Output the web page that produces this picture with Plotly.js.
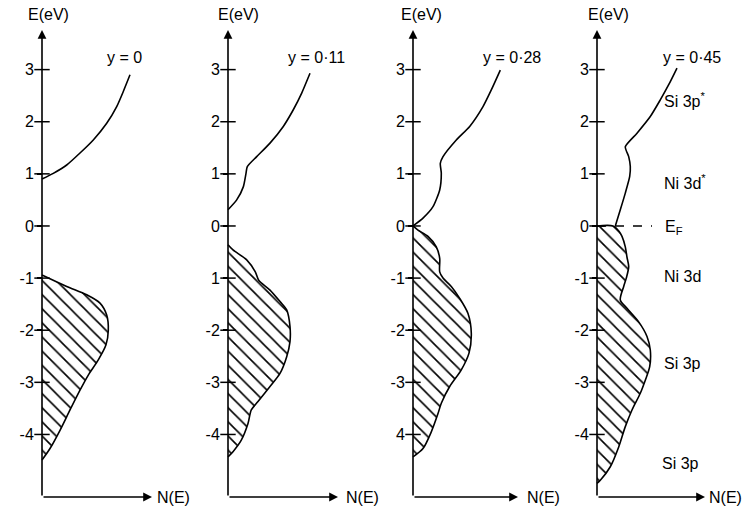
<!DOCTYPE html>
<html>
<head>
<meta charset="utf-8">
<script src="https://cdn.plot.ly/plotly-3.0.1.min.js"></script>
<style>html,body{margin:0;padding:0;background:#fff;}#chart{width:754px;height:508px;}</style>
</head>
<body>
<div id="chart"></div>
<script>
// ---- data (N(E) in arbitrary units, E in eV) ----
const panelLabels = ["y = 0", "y = 0·11", "y = 0·28", "y = 0·45"];
const tickVals = [3, 2, 1, 0, -1, -2, -3, -4];
const tickText1 = ["3", "2", "1", "0", "-1", "-2", "-3", "-4"];
const tickText2 = ["3", "2", "1", "0", "1", "-2", "-3", "-4"];
const tickText3 = ["3", "2", "1", "0", "-1", "-2", "-3", "4"];
const tickText4 = ["3", "2", "1", "0", "-1", "-2", "-3", "-4"];

const cond1N = [0, 1.13, 2.47, 3.8, 5.13, 6.47, 7.47, 8.13, 8.8];
const cond1E = [0.90, 1.01, 1.17, 1.40, 1.65, 1.97, 2.29, 2.58, 2.90];
const val1N = [0, 2.47, 4.47, 5.8, 6.47, 6.63, 6.4, 5.63, 4.63, 3.8, 2.8, 1.8, 0.8, 0];
const val1E = [-0.94, -1.16, -1.32, -1.48, -1.71, -2.0, -2.28, -2.57, -2.86, -3.15, -3.53, -3.92, -4.27, -4.49];

const cond2N = [0, 0.87, 1.53, 1.8, 1.93, 2.87, 4.2, 5.53, 6.53, 7.37, 8.2];
const cond2E = [0.31, 0.50, 0.75, 1.01, 1.14, 1.33, 1.59, 1.91, 2.23, 2.55, 2.93];
const val2N = [0, 0.5, 1.87, 2.73, 3.07, 4.2, 5.2, 5.87, 6.2, 6.2, 5.87, 5.2, 4.2, 3.0, 2.33, 2.0, 1.33, 0.5, 0];
const val2E = [-0.36, -0.46, -0.65, -0.88, -1.04, -1.23, -1.45, -1.61, -1.93, -2.22, -2.51, -2.83, -3.08, -3.37, -3.53, -3.79, -4.11, -4.33, -4.43];

const cond3N = [0, 1.0, 2.0, 2.67, 2.83, 2.73, 3.0, 4.33, 5.67, 7.0, 7.83, 8.73];
const cond3E = [0, 0.15, 0.37, 0.69, 1.01, 1.20, 1.33, 1.65, 1.91, 2.29, 2.61, 2.99];
const val3N = [0, 0.5, 1.5, 2.33, 2.67, 2.67, 3.0, 3.83, 4.67, 5.5, 5.83, 5.6, 4.83, 3.67, 2.83, 2.5, 1.83, 1.0, 0];
const val3E = [0, -0.08, -0.2, -0.4, -0.62, -0.88, -1.0, -1.16, -1.39, -1.68, -2.06, -2.44, -2.76, -3.08, -3.40, -3.60, -3.95, -4.27, -4.43];

const cond4N = [1.83, 2.33, 2.83, 3.27, 3.33, 3.17, 2.83, 4.0, 5.33, 6.33, 7.17, 8.0];
const cond4E = [0, 0.31, 0.63, 0.95, 1.14, 1.33, 1.52, 1.78, 2.10, 2.42, 2.71, 3.03];
const val4N = [0, 1.6, 2.2, 2.5, 2.83, 3.0, 3.17, 2.93, 2.67, 2.33, 3.0, 4.17, 5.0, 5.33, 5.27, 4.83, 4.33, 3.5, 2.83, 2.17, 1.33, 0.33, 0];
const val4E = [0, 0, -0.1, -0.2, -0.4, -0.6, -0.78, -1.0, -1.16, -1.42, -1.58, -1.84, -2.12, -2.38, -2.70, -2.96, -3.21, -3.53, -3.85, -4.24, -4.62, -4.88, -4.94];

const fermiN = [0, 5.5];
const fermiE = [0, 0];

const bandLabels = ["Si 3p<sup>*</sup>", "Ni 3d<sup>*</sup>", "E<sub>F</sub>", "Ni 3d", "Si 3p", "Si 3p"];
const bandLabelN = [6.5, 6.5, 6.6, 6.5, 6.5, 6.3];
const bandLabelE = [2.42, 0.84, -0.02, -0.96, -2.63, -4.55];

// ---- layout helpers ----
const W = 754;
const axisPx = [42, 228, 413, 597];
const arrowTip = [11.0, 11.0, 10.5, 10.8];
const nLabelX = [11.3, 11.6, 11.2, 11.0];
const titleX = [0.65, 1.0, 0.9, 1.1];
const yLabelX = [8.25, 8.8, 9.9, 9.45];
const E0 = -5.2, E1 = 3.76;
const font = {family: "Liberation Sans, Arial, sans-serif", size: 16, color: "#000"};

const conds = [[cond1N, cond1E], [cond2N, cond2E], [cond3N, cond3E], [cond4N, cond4E]];
const vals = [[val1N, val1E], [val2N, val2E], [val3N, val3E], [val4N, val4E]];
const tickTexts = [tickText1, tickText2, tickText3, tickText4];

const traces = [];
const layout = {
  width: 754, height: 508,
  margin: {l: 0, r: 0, t: 30, b: 11},
  paper_bgcolor: "#fff", plot_bgcolor: "rgba(0,0,0,0)",
  showlegend: false,
  font: font,
  annotations: []
};

for (let i = 0; i < 4; i++) {
  const s = i === 0 ? "" : String(i + 1);
  const xa = "x" + s, ya = "y" + s;
  const a = axisPx[i];
  layout["xaxis" + s] = {
    domain: [(a - 10) / W, (a + 120) / W], range: [-1, 12],
    visible: false, fixedrange: true
  };
  layout["yaxis" + s] = {
    domain: [0, 1], range: [E0, E1], anchor: "free", position: a / W,
    showline: false, showgrid: false, zeroline: false,
    tickmode: "array", tickvals: tickVals, ticktext: tickTexts[i],
    ticks: "outside", ticklen: 5, tickwidth: 1.5, tickcolor: "#000",
    tickfont: font, fixedrange: true
  };
  // valence band (hatched)
  traces.push({
    type: "scatter", mode: "lines", x: vals[i][0], y: vals[i][1], xaxis: xa, yaxis: ya,
    line: {color: "#000", width: 1.6, shape: "spline", smoothing: 0.8},
    fill: "tozerox", fillcolor: "#fff",
    fillpattern: {shape: "\\", fgcolor: "#000", bgcolor: "#fff", size: 10, solidity: 0.16},
    hoverinfo: "skip"
  });
  // conduction band
  traces.push({
    type: "scatter", mode: "lines", x: conds[i][0], y: conds[i][1], xaxis: xa, yaxis: ya,
    line: {color: "#000", width: 1.6, shape: "spline", smoothing: 0.6},
    hoverinfo: "skip"
  });
  // cross tick marks on the energy axis
  traces.push({
    type: "scatter", mode: "markers", x: tickVals.map(() => 0), y: tickVals, xaxis: xa, yaxis: ya,
    marker: {symbol: "line-ew", size: 11, line: {color: "#000", width: 1.5}},
    cliponaxis: false, hoverinfo: "skip"
  });
  // axes with arrows
  layout.annotations.push({
    xref: xa, yref: ya, axref: xa, ayref: ya, x: arrowTip[i], y: E0, ax: 0, ay: E0,
    text: "", showarrow: true, arrowhead: 2, arrowsize: 1.1, arrowwidth: 1.6, arrowcolor: "#000", standoff: 0
  });
  layout.annotations.push({
    xref: xa, yref: ya, axref: xa, ayref: ya, x: 0, y: E1, ax: 0, ay: E0,
    text: "", showarrow: true, arrowhead: 2, arrowsize: 1.1, arrowwidth: 1.6, arrowcolor: "#000", standoff: 0
  });
  layout.annotations.push({
    xref: xa, yref: "paper", x: titleX[i], y: 1 + 15 / 467, text: "E(eV)", showarrow: false,
    xanchor: "center", yanchor: "middle", font: font
  });
  layout.annotations.push({
    xref: xa, yref: ya, x: nLabelX[i], y: E0, text: "N(E)", showarrow: false,
    xanchor: "left", yanchor: "middle", font: font
  });
  layout.annotations.push({
    xref: xa, yref: ya, x: yLabelX[i], y: 3.24, text: panelLabels[i], showarrow: false,
    xanchor: "center", yanchor: "middle", font: font
  });
}

// Fermi level (dashed) in the last panel
traces.push({
  type: "scatter", mode: "lines", x: fermiN, y: fermiE, xaxis: "x4", yaxis: "y4",
  line: {color: "#000", width: 1.4, dash: "dash"}, hoverinfo: "skip"
});
for (let k = 0; k < bandLabels.length; k++) {
  layout.annotations.push({
    xref: "x4", yref: "y4", x: bandLabelN[k], y: bandLabelE[k], text: bandLabels[k],
    showarrow: false, xanchor: "left", yanchor: "middle", font: font
  });
}

Plotly.newPlot("chart", traces, layout, {staticPlot: true, displayModeBar: false});
</script>
</body>
</html>
